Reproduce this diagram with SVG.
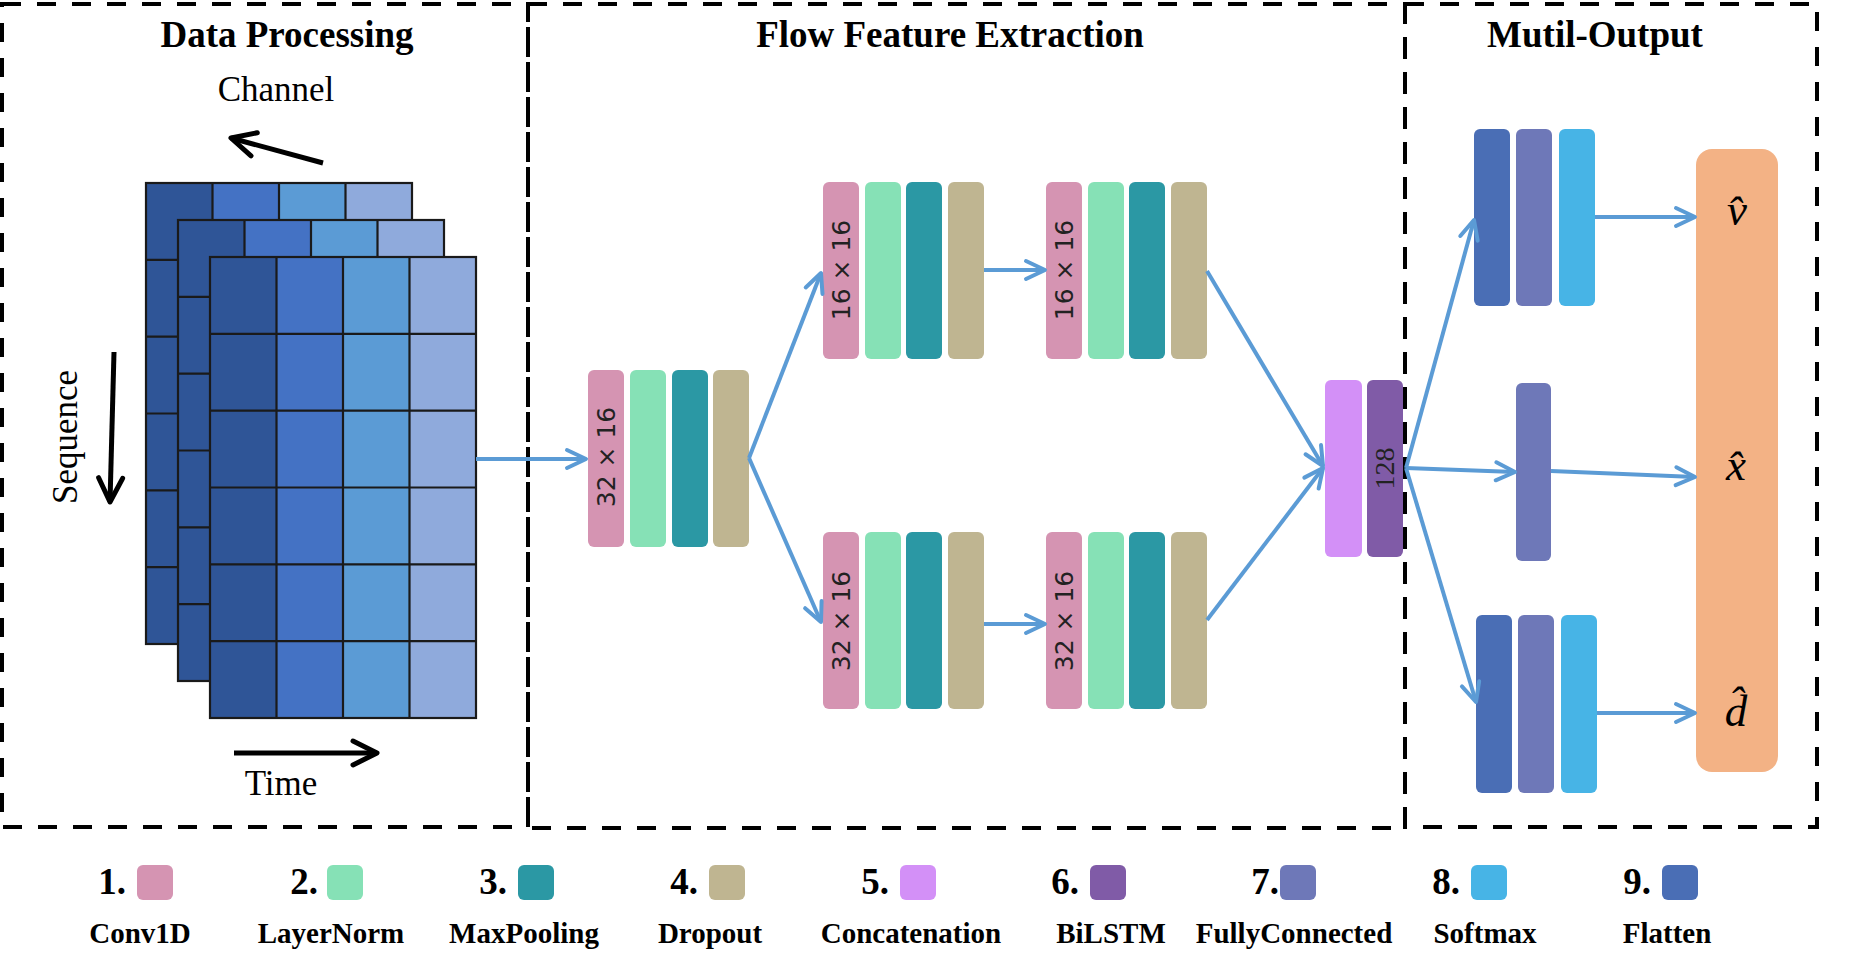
<svg xmlns="http://www.w3.org/2000/svg" xmlns:xlink="http://www.w3.org/1999/xlink" width="1858" height="959" viewBox="0 0 1858 959">
<style>
.title{font-family:"Liberation Serif","Times New Roman",serif;font-weight:bold;font-size:37px;fill:#000;text-anchor:middle}
.axis{font-family:"Liberation Serif","Times New Roman",serif;font-size:35px;fill:#000;text-anchor:middle}
.dash{fill:none;stroke:#000;stroke-width:4;stroke-dasharray:19 16}
.conn{fill:none;stroke:#5B9BD5;stroke-width:4;marker-end:url(#ab)}
.bk{fill:none;stroke:#000;stroke-width:5;marker-end:url(#ak)}
.dim{font-family:"DejaVu Sans",sans-serif;font-size:25px;fill:#222;text-anchor:middle}
.dim2{font-family:"Liberation Serif",serif;font-size:28px;fill:#222;text-anchor:middle}
.num{font-family:"Liberation Serif","Times New Roman",serif;font-weight:bold;font-size:37px;fill:#000;text-anchor:end}
.lab{font-family:"Liberation Serif","Times New Roman",serif;font-weight:bold;font-size:29px;fill:#000;text-anchor:middle}
.out{font-family:"Liberation Serif","DejaVu Serif",serif;font-style:italic;font-size:45px;fill:#000;text-anchor:middle}
.c1{fill:#D594B2}.c2{fill:#86E1B6}.c3{fill:#2B98A4}.c4{fill:#BFB591}.c5{fill:#D390F7}.c6{fill:#805BA7}.c7{fill:#6E78B8}.c8{fill:#47B4E6}.c9{fill:#4A6EB5}
.gl{fill:none;stroke:#1a1a1a;stroke-width:2.2}
</style>
<defs>
<marker id="ab" viewBox="-24 -12 28 24" refX="0" refY="0" markerWidth="28" markerHeight="24" markerUnits="userSpaceOnUse" orient="auto" overflow="visible">
<path d="M-19,-9 L0,0 L-19,9" fill="none" stroke="#5B9BD5" stroke-width="4" stroke-linecap="round" stroke-linejoin="round"/>
</marker>
<marker id="ak" viewBox="-28 -16 32 32" refX="0" refY="0" markerWidth="32" markerHeight="32" markerUnits="userSpaceOnUse" orient="auto" overflow="visible">
<path d="M-24,-12 L0,0 L-24,12" fill="none" stroke="#000" stroke-width="5" stroke-linecap="round" stroke-linejoin="round"/>
</marker>
<g id="grid">
<rect x="0" y="0" width="66.5" height="461" fill="#2F5597"/>
<rect x="66.5" y="0" width="66.5" height="461" fill="#4472C4"/>
<rect x="133" y="0" width="66.5" height="461" fill="#5B9BD5"/>
<rect x="199.5" y="0" width="66.5" height="461" fill="#8FAADC"/>
<path class="gl" d="M66.5,0V461M133,0V461M199.5,0V461M0,76.8H266M0,153.7H266M0,230.5H266M0,307.3H266M0,384.2H266"/>
<rect x="0" y="0" width="266" height="461" class="gl" stroke-width="2.5"/>
</g>
</defs>
<rect width="1858" height="959" fill="#fff"/>

<g id="sections">
<rect class="dash" x="2" y="4" width="526" height="823"/>
<rect class="dash" x="528" y="4" width="877" height="824"/>
<rect class="dash" x="1405" y="4" width="412" height="823"/>
<text class="title" x="287" y="47">Data Processing</text>
<text class="title" x="950" y="47">Flow Feature Extraction</text>
<text class="title" x="1595" y="47">Mutil-Output</text>
</g>

<g id="input-data">
<use xlink:href="#grid" href="#grid" x="146" y="183"/>
<use xlink:href="#grid" href="#grid" x="178" y="220"/>
<use xlink:href="#grid" href="#grid" x="210" y="257"/>
<text class="axis" x="276" y="101">Channel</text>
<path class="bk" d="M323,163 L231,138"/>
<path class="bk" d="M114,352 L110,502"/>
<text class="axis" transform="translate(77,437) rotate(-90)" x="0" y="0">Sequence</text>
<path class="bk" d="M234,753 L377,753"/>
<text class="axis" x="281" y="795">Time</text>
</g>

<g id="block-a">
<rect class="c1" x="588" y="370" width="36" height="177" rx="6"/>
<rect class="c2" x="630" y="370" width="36" height="177" rx="6"/>
<rect class="c3" x="672" y="370" width="36" height="177" rx="6"/>
<rect class="c4" x="713" y="370" width="36" height="177" rx="6"/>
<text class="dim" transform="translate(615,457) rotate(-90)">32 × 16</text>
</g>
<g id="block-b">
<rect class="c1" x="823" y="182" width="36" height="177" rx="6"/>
<rect class="c2" x="865" y="182" width="36" height="177" rx="6"/>
<rect class="c3" x="906" y="182" width="36" height="177" rx="6"/>
<rect class="c4" x="948" y="182" width="36" height="177" rx="6"/>
<text class="dim" transform="translate(850,270) rotate(-90)">16 × 16</text>
</g>
<g id="block-c">
<rect class="c1" x="1046" y="182" width="36" height="177" rx="6"/>
<rect class="c2" x="1088" y="182" width="36" height="177" rx="6"/>
<rect class="c3" x="1129" y="182" width="36" height="177" rx="6"/>
<rect class="c4" x="1171" y="182" width="36" height="177" rx="6"/>
<text class="dim" transform="translate(1073,270) rotate(-90)">16 × 16</text>
</g>
<g id="block-d">
<rect class="c1" x="823" y="532" width="36" height="177" rx="6"/>
<rect class="c2" x="865" y="532" width="36" height="177" rx="6"/>
<rect class="c3" x="906" y="532" width="36" height="177" rx="6"/>
<rect class="c4" x="948" y="532" width="36" height="177" rx="6"/>
<text class="dim" transform="translate(850,621) rotate(-90)">32 × 16</text>
</g>
<g id="block-e">
<rect class="c1" x="1046" y="532" width="36" height="177" rx="6"/>
<rect class="c2" x="1088" y="532" width="36" height="177" rx="6"/>
<rect class="c3" x="1129" y="532" width="36" height="177" rx="6"/>
<rect class="c4" x="1171" y="532" width="36" height="177" rx="6"/>
<text class="dim" transform="translate(1073,621) rotate(-90)">32 × 16</text>
</g>
<g id="merge">
<rect class="c5" x="1325" y="380" width="37" height="177" rx="6"/>
<rect class="c6" x="1367" y="380" width="36" height="177" rx="6"/>
<text class="dim2" transform="translate(1394,468.5) rotate(-90)">128</text>
</g>

<g id="head-top">
<rect class="c9" x="1474" y="129" width="36" height="177" rx="6"/>
<rect class="c7" x="1516" y="129" width="36" height="177" rx="6"/>
<rect class="c8" x="1559" y="129" width="36" height="177" rx="6"/>
</g>
<g id="head-mid">
<rect class="c7" x="1516" y="383" width="35" height="178" rx="6"/>
</g>
<g id="head-bot">
<rect class="c9" x="1476" y="615" width="36" height="178" rx="6"/>
<rect class="c7" x="1518" y="615" width="36" height="178" rx="6"/>
<rect class="c8" x="1561" y="615" width="36" height="178" rx="6"/>
</g>
<g id="outputs">
<rect x="1696" y="149" width="82" height="623" rx="16" fill="#F3B285"/>
<text class="out" x="1737" y="225">v&#x302;</text>
<text class="out" x="1736" y="480">x&#x302;</text>
<text class="out" x="1736" y="726">d&#x302;</text>
</g>

<g id="connectors">
<path class="conn" d="M476,459 L586,459"/>
<path class="conn" d="M749,458 L821,273"/>
<path class="conn" d="M749,458 L821,622"/>
<path class="conn" d="M984,270 L1045,270"/>
<path class="conn" d="M984,624 L1045,624"/>
<path class="conn" d="M1207,271 L1323,466"/>
<path class="conn" d="M1207,620 L1323,468"/>
<path class="conn" d="M1406,468 L1474,220"/>
<path class="conn" d="M1406,468 L1515,472"/>
<path class="conn" d="M1406,468 L1476,702"/>
<path class="conn" d="M1595,217 L1695,217"/>
<path class="conn" d="M1551,471 L1695,477"/>
<path class="conn" d="M1597,713 L1695,713"/>
</g>

<g id="legend">
<g id="leg1"><text class="num" x="126" y="894">1.</text><rect class="c1" x="137" y="865" width="36" height="35" rx="6"/><text class="lab" x="140" y="943">Conv1D</text></g>
<g id="leg2"><text class="num" x="318" y="894">2.</text><rect class="c2" x="327" y="865" width="36" height="35" rx="6"/><text class="lab" x="331" y="943">LayerNorm</text></g>
<g id="leg3"><text class="num" x="507" y="894">3.</text><rect class="c3" x="518" y="865" width="36" height="35" rx="6"/><text class="lab" x="524" y="943">MaxPooling</text></g>
<g id="leg4"><text class="num" x="698" y="894">4.</text><rect class="c4" x="709" y="865" width="36" height="35" rx="6"/><text class="lab" x="710" y="943">Dropout</text></g>
<g id="leg5"><text class="num" x="889" y="894">5.</text><rect class="c5" x="900" y="865" width="36" height="35" rx="6"/><text class="lab" x="911" y="943">Concatenation</text></g>
<g id="leg6"><text class="num" x="1079" y="894">6.</text><rect class="c6" x="1090" y="865" width="36" height="35" rx="6"/><text class="lab" x="1111" y="943">BiLSTM</text></g>
<g id="leg7"><text class="num" x="1279" y="894">7.</text><rect class="c7" x="1280" y="865" width="36" height="35" rx="6"/><text class="lab" x="1294" y="943">FullyConnected</text></g>
<g id="leg8"><text class="num" x="1460" y="894">8.</text><rect class="c8" x="1471" y="865" width="36" height="35" rx="6"/><text class="lab" x="1485" y="943">Softmax</text></g>
<g id="leg9"><text class="num" x="1651" y="894">9.</text><rect class="c9" x="1662" y="865" width="36" height="35" rx="6"/><text class="lab" x="1667" y="943">Flatten</text></g>
</g>
</svg>
